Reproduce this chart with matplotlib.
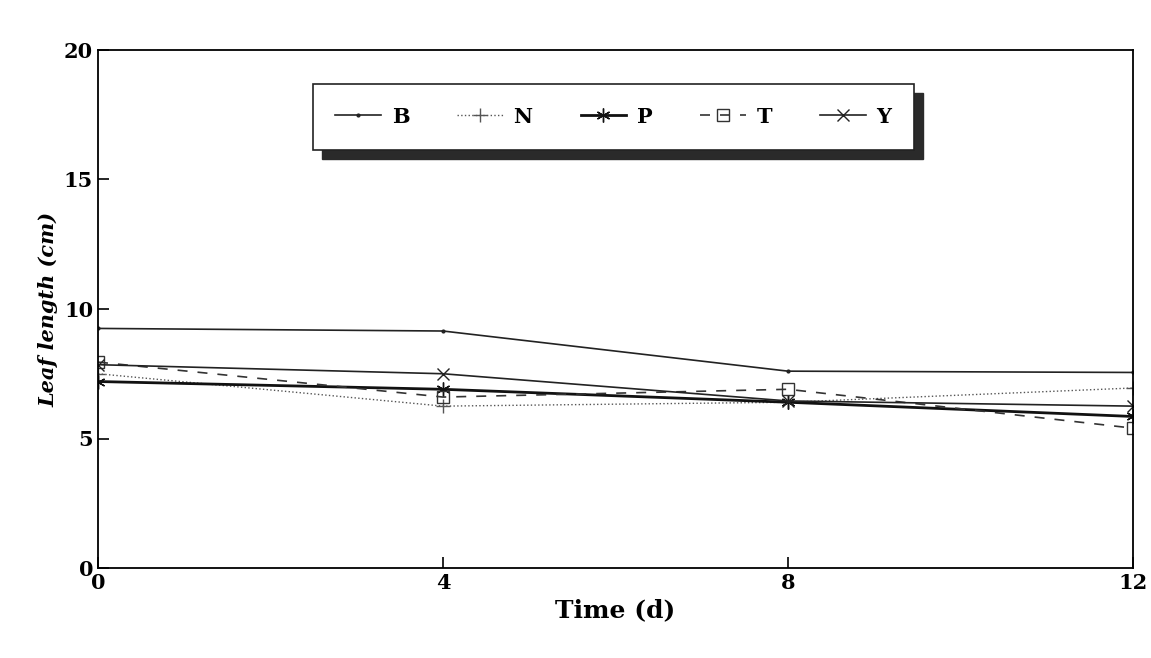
import matplotlib
matplotlib.use('Agg')
import matplotlib.pyplot as plt
from matplotlib.patches import Rectangle

days = [0, 4, 8, 12]
leafB = [9.25, 9.15, 7.6, 7.55]
leafN = [7.5, 6.25, 6.4, 6.95]
leafP = [7.2, 6.9, 6.4, 5.85]
leafT = [7.95, 6.6, 6.9, 5.4]
leafY = [7.85, 7.5, 6.45, 6.25]

plt.rcParams['font.family'] = 'DejaVu Serif'

fig = plt.figure(figsize=(11.51, 6.58), dpi=100)
ax = fig.add_axes([98/1151, 90/658, (1133-98)/1151, (568-50)/658])

ax.plot(days, leafB, color='#222', lw=1.2, marker='.', ms=4, label='B')
ax.plot(days, leafN, color='#555', lw=1.0, ls=':', marker='+', ms=10, label='N')
ax.plot(days, leafP, color='#111', lw=2.0, marker=(6, 2, 0), ms=10, label='P')
ax.plot(days, leafT, color='#333', lw=1.2, ls=(0, (6, 6)), marker='s', ms=8,
        mfc='none', label='T')
ax.plot(days, leafY, color='#222', lw=1.2, marker='x', ms=9, label='Y')

ax.set_xlim(0, 12)
ax.set_ylim(0, 20)
ax.set_xticks(days)
ax.set_yticks([0, 5, 10, 15, 20])
ax.tick_params(direction='in', length=8, width=1.2, labelsize=15)
for lab in ax.get_xticklabels() + ax.get_yticklabels():
    lab.set_fontweight('bold')
for s in ax.spines.values():
    s.set_linewidth(1.3)

ax.set_xlabel('Time (d)', fontsize=18, fontweight='bold', labelpad=4)
ax.set_ylabel('Leaf length (cm)', fontsize=15, fontweight='bold', style='italic')

leg = ax.legend(loc='upper center', bbox_to_anchor=(0.498, 0.955), ncol=5,
                frameon=True, fancybox=False, shadow=False,
                edgecolor='#222', columnspacing=2.3, handlelength=2.2,
                handletextpad=0.5, borderpad=1.1, framealpha=1,
                prop={'weight': 'bold', 'size': 15})
leg.get_frame().set_linewidth(1.2)
leg.set_zorder(5)

# dark drop shadow like the original, kept behind the legend box
fig.canvas.draw()
bb = leg.get_window_extent().transformed(fig.transFigure.inverted())
shadow = Rectangle((bb.x0 + 9/1151, bb.y0 - 9/658), bb.width, bb.height,
                   transform=fig.transFigure, color='#2a2a2a', zorder=4,
                   clip_on=False)
ax.add_patch(shadow)

fig.savefig('out.png', dpi=100)
